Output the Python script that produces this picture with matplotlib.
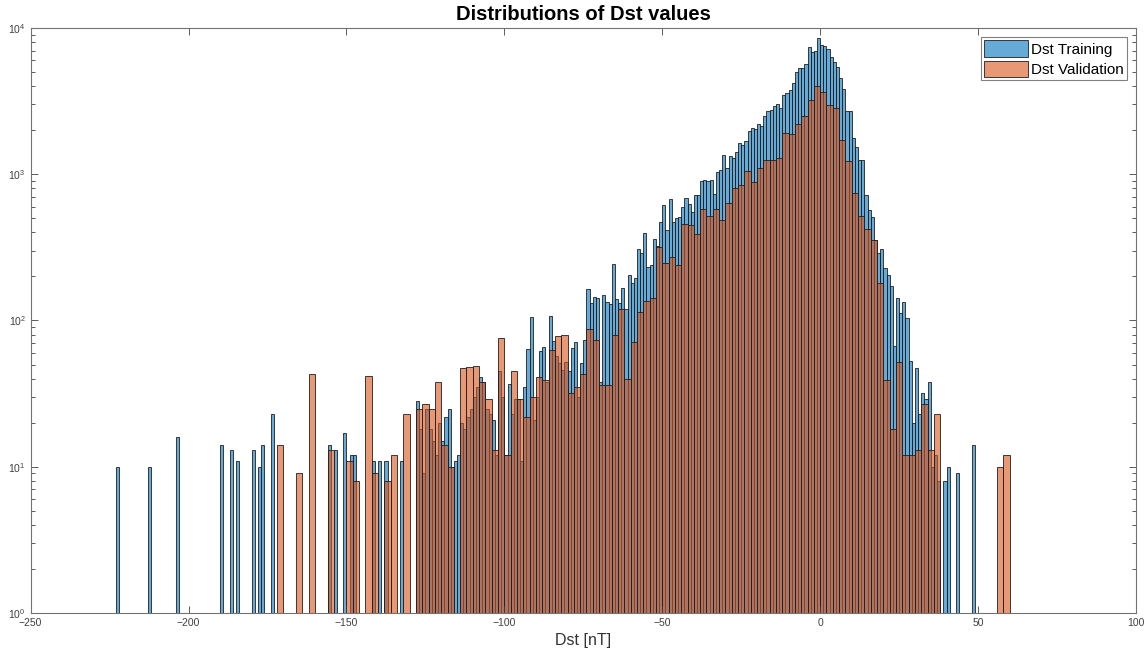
import numpy as np
import matplotlib
matplotlib.use("Agg")
from matplotlib import pyplot as plt

# histogram counts
# training set uses 1 nT bins, validation set 2 nT bins (left edges)

train_sparse_x = [-223, -213, -204, -190, -187, -185, -180, -178, -177, -174]
train_sparse_n = [10, 10, 16, 14, 13, 11, 13, 10, 14, 23]

train_start = -156
train_n = [
    14, 0, 13, 0, 0, 17, 0, 12, 12, 0,                          # -156..-147
    0, 0, 0, 0, 11, 0, 11, 0, 11, 0,                            # -146..-137
    0, 0, 0, 11, 0, 0, 0, 0, 28, 18,                            # -136..-127
    9, 25, 18, 15, 12, 20, 15, 22, 25, 10,                      # -126..-117
    11, 12, 20, 18, 22, 25, 30, 35, 41, 38,                     # -116..-107
    25, 23, 21, 12, 45, 30, 12, 37, 23, 29,                     # -106..-97
    29, 11, 35, 64, 106, 21, 30, 62, 66, 38,                    # -96..-87
    107, 72, 57, 51, 46, 52, 45, 65, 71, 30,                    # -86..-77
    51, 74, 165, 132, 144, 142, 38, 149, 133, 129,              # -76..-67
    243, 140, 131, 168, 119, 206, 181, 194, 306, 288,           # -66..-57
    395, 233, 241, 361, 325, 469, 616, 415, 677, 469,           # -56..-47
    500, 510, 594, 685, 623, 555, 725, 725, 899, 914,           # -46..-37
    900, 914, 732, 1031, 1074, 1355, 1097, 1333, 1286, 1413,    # -36..-27
    1644, 1585, 1688, 1976, 2062, 2038, 2193, 2137, 2512, 2706, # -26..-17
    2750, 2943, 3007, 2852, 3483, 3575, 3748, 4188, 4977, 5300, # -16..-7
    5300, 5650, 7450, 6890, 7000, 8490, 7650, 7540, 7180, 6370, # -6..3
    5830, 5380, 4575, 3800, 2700, 2700, 1760, 1540, 1250, 1250, # 4..13
    720, 570, 510, 355, 288, 307, 227, 205, 172, 67,            # 14..23
    142, 112, 134, 104, 53, 20, 47, 23, 32, 29,                 # 24..33
    38, 10, 12, 8, 0, 8, 10, 0, 0, 9,                           # 34..43
    0, 0, 0, 0, 14,                                             # 44..48
]

valid_start = -172
valid_n = [
    14, 0, 0, 9, 0, 43, 0, 0, 13, 0,                 # -172..-154
    0, 11, 8, 0, 42, 9, 0, 8, 12, 0,                 # -152..-134
    23, 0, 25, 27, 25, 38, 14, 10, 0, 47,            # -132..-114
    48, 49, 38, 29, 13, 76, 12, 45, 29, 22,          # -112..-94
    30, 41, 39, 63, 78, 79, 32, 35, 43, 87,          # -92..-74
    74, 36, 36, 80, 120, 40, 71, 115, 136, 143,      # -72..-54
    320, 249, 270, 240, 455, 448, 390, 579, 518, 579,  # -52..-34
    487, 633, 809, 844, 1057, 881, 1109, 1251, 1251, 1285,  # -32..-14
    1924, 1884, 2217, 2500, 3236, 4033, 3670, 2977, 2852, 1714,  # -12..6
    1238, 741, 518, 420, 355, 180, 39, 18, 52, 12,   # 8..26
    12, 13, 27, 13, 23, 0, 0, 0, 0, 0,               # 28..46
    0, 0, 0, 0, 10, 12,                              # 48..58
]

train_width = 1
valid_width = 2

plt.rcParams['font.family'] = ['Liberation Sans', 'DejaVu Sans']

tx = np.concatenate([train_sparse_x, train_start + train_width * np.arange(len(train_n))])
tn = np.concatenate([train_sparse_n, train_n])
vx = valid_start + valid_width * np.arange(len(valid_n))
vn = np.array(valid_n)

blue = (0.0, 0.447, 0.741, 0.6)
orange = (0.85, 0.325, 0.098, 0.6)

fig = plt.figure(figsize=(11.44, 6.54), dpi=100)
ax = fig.add_axes([0.0268, 0.0627, 0.9662, 0.8945])

ax.bar(tx[tn > 0], tn[tn > 0], width=train_width, align='edge',
       color=blue, edgecolor=(0.12, 0.12, 0.12), linewidth=0.6, label='Dst Training')
ax.bar(vx[vn > 0], vn[vn > 0], width=valid_width, align='edge',
       color=orange, edgecolor=(0.12, 0.12, 0.12), linewidth=0.6, label='Dst Validation')

ax.set_yscale('log')
ax.set_xlim(-250, 100)
ax.set_ylim(1, 1e4)
ax.set_xticks(np.arange(-250, 101, 50))
ax.tick_params(which='both', direction='in', top=True, right=True,
               labelsize=7.5, colors='0.25')
ax.tick_params(which='major', length=5, width=0.6)
ax.tick_params(which='minor', length=3, width=0.6)
for s in ax.spines.values():
    s.set_color('0.45')
    s.set_linewidth(0.8)

ax.set_title('Distributions of Dst values', fontsize=14.5, fontweight='bold', pad=6)
ax.set_xlabel('Dst [nT]', fontsize=11.5, color='0.2', labelpad=4)

leg = ax.legend(loc='upper right', fontsize=11, fancybox=False, framealpha=1,
                borderpad=0.2, handlelength=2.9, handleheight=1.3,
                handletextpad=0.2, labelspacing=0.25, borderaxespad=0.6)
leg.get_frame().set_edgecolor('0.5')
leg.get_frame().set_linewidth(0.8)

fig.savefig('out.png', dpi=100)
